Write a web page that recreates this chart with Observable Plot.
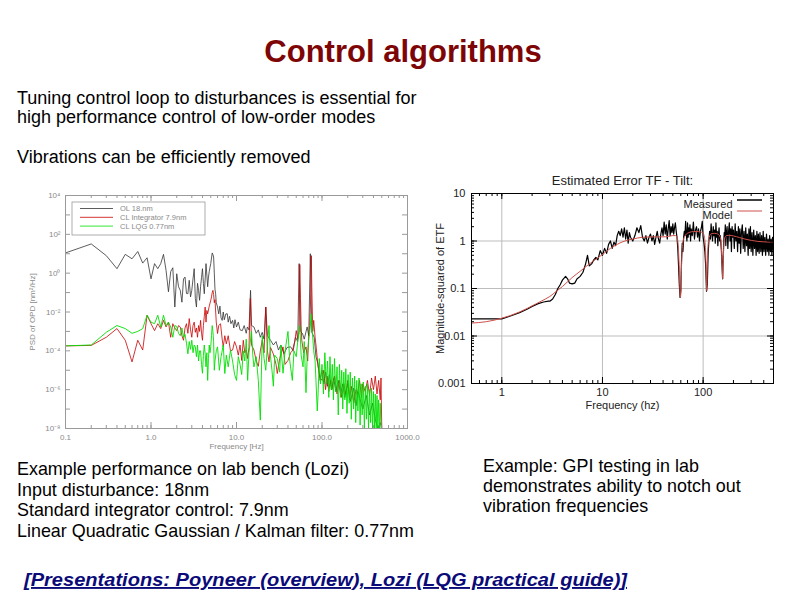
<!DOCTYPE html>
<html><head><meta charset="utf-8">
<script src="https://cdn.jsdelivr.net/npm/d3@7"></script>
<script src="https://cdn.jsdelivr.net/npm/@observablehq/plot@0.6"></script>
<style>
body{margin:0;background:#fff;}
#slide{position:relative;width:794px;height:595px;overflow:hidden;background:#fff;font-family:"Liberation Sans",Arial,sans-serif;}
</style></head><body><div id="slide"></div>
<script>
// ---------- slide text ----------
const titleText = "Control algorithms";
const topLines = ["Tuning control loop to disturbances is essential for", "high performance control of low-order modes", "Vibrations can be efficiently removed"];
const bottomLeftLines = ["Example performance on lab bench (Lozi)", "Input disturbance: 18nm", "Standard integrator control: 7.9nm", "Linear Quadratic Gaussian / Kalman filter: 0.77nm"];
const bottomRightLines = ["Example: GPI testing in lab", "demonstrates ability to notch out", "vibration frequencies"];
const linkText = "[Presentations: Poyneer (overview), Lozi (LQG practical guide)]";

// ---------- left chart: PSD of OPD ----------
const leftLegend = ["OL 18.nm", "CL Integrator 7.9nm", "CL LQG 0.77nm"];
const leftXTicks = [0.1, 1, 10, 100, 1000];
const leftYLabelTicks = [1e-8, 1e-6, 1e-4, 1e-2, 1, 1e2, 1e4];

const olFreq = [0.1,0.2,0.3,0.4,0.5,0.6,0.7,0.8,0.9,1.0,1.1,1.2,1.3,1.4,1.5,1.6,1.7,1.8,1.9,2.0,2.1,2.2,2.3,2.4,2.5,2.6,2.7,2.8,2.9,3.0,3.1,3.2,3.3,3.4,3.5,3.6,3.7,3.8,3.9,4.0,4.1,4.2,4.3,4.4,4.5,4.6,4.7,4.8,4.9,5.0,5.1,5.2,5.3,5.4,5.5,5.6,5.7,5.8,6.0,6.2,6.4,6.6,6.8,7.0,7.2,7.5,7.8,8.0,8.3,8.6,9.0,9.3,9.6,10,10.5,11,11.7,12.3,13,13.4,14,14.6,15,16,17,18,19,20,21,22,23,25,27,29,31,33,36,39,43,46,49,52,54,56,59,62,67,70,73,76,81,85,90,95,100,105,110,116,122,130,137,145,155,165,175,185,200,215,235,250,265,280,300,330,360,390,420,450,480,500];
const olPsd = [11,32,8,1.7,9.3,5.5,13,3.3,6.2,0.51,3.1,1.7,3.1,9.3,1.4,0.11,1.2,1.9,0.018,0.93,0.2,0.13,0.032,0.5,0.63,0.09,0.087,0.43,0.06,0.13,0.5,1.7,0.05,0.018,0.3,0.13,0.04,0.2,0.6,1.7,0.3,0.087,0.5,3.1,0.8,0.2,0.63,1.2,2.0,3.1,6,11,9,6.8,1.0,0.15,0.087,0.03,0.018,0.008,0.02,0.005,0.0037,0.01,0.004,0.008,0.0081,0.003,0.006,0.0025,0.0037,0.0015,0.004,0.0017,0.003,0.0012,0.0011,0.002,0.0008,0.0017,0.0012,0.13,0.002,0.0017,0.0008,0.0012,0.0005,0.0009,0.0004,0.018,0.0006,0.00035,0.0002,0.0003,0.00011,0.0002,0.00007,0.00015,0.00016,0.0001,0.0005,0.0003,3.1,0.001,0.0008,0.0004,0.0017,0.0006,10,0.0009,0.0005,0.00005,0.00002,3e-6,1e-5,2e-6,8e-6,1.5e-6,6e-6,1e-6,4e-6,8e-7,3e-6,6e-7,2e-6,4e-7,2e-6,2.5e-7,1.2e-6,1.5e-7,8e-7,3e-7,1e-7,5e-7,5e-8,2e-7,3e-8,1e-8,2e-8,1e-8];

const intFreq = [0.1,0.2,0.3,0.4,0.5,0.6,0.7,0.8,0.9,1.0,1.1,1.2,1.3,1.4,1.5,1.6,1.7,1.8,1.9,2.0,2.1,2.2,2.3,2.4,2.5,2.6,2.7,2.8,2.9,3.0,3.1,3.2,3.3,3.4,3.5,3.6,3.7,3.8,3.9,4.0,4.1,4.2,4.3,4.4,4.5,4.6,4.8,5.0,5.1,5.2,5.3,5.4,5.5,5.6,5.8,6.0,6.2,6.5,6.8,7.0,7.3,7.6,8.0,8.5,9.0,9.5,10,10.5,11,11.5,12,12.5,13,13.5,14,14.5,15,16,17,18,19,20,21,22,23,24,25,27,29,30,32,35,37,40,43,45,48,50,52,54,55,56,57,58,61,65,68,70,72,74,75,76,78,80,83,85,90,95,100,105,110,115,120,125,130,140,150,160,170,180,190,200,210,220,235,250,260,275,290,300,320,340,360,380,400,420,440,460,480,490,500];
const intPsd = [1.8e-4,1.9e-4,5e-4,1.4e-3,3.5e-4,2.7e-5,3.5e-4,1.1e-4,6.8e-3,2.5e-3,1.1e-3,2.5e-3,1.4e-3,3.7e-3,1.7e-3,3e-3,5e-4,2.5e-3,1.5e-3,1.1e-3,2e-3,1.7e-3,6e-4,3.5e-4,1.5e-3,2.5e-3,8e-4,4.6e-3,1.2e-3,5e-4,2e-3,3e-3,9e-4,1.5e-3,5e-4,2e-3,1e-3,3.7e-3,8e-4,3.5e-4,2e-3,6e-3,0.018,3e-3,0.012,8e-3,0.02,0.04,0.06,0.1,0.13,0.08,0.03,0.043,3e-3,7.8e-4,2e-3,2.5e-3,4e-4,1.6e-4,6e-4,2.3e-4,6e-4,1e-4,1.1e-4,3e-4,1.6e-4,6e-5,2e-4,3.2e-5,3.5e-4,8e-5,1.1e-4,4e-5,1.5e-4,0.05,2e-4,1.1e-4,3e-5,1.6e-5,1e-4,3.5e-4,8e-5,0.018,1e-4,2.7e-5,1.5e-4,6.8e-5,2e-5,6.8e-6,4e-5,1.6e-4,2e-5,3.2e-5,8e-5,1e-4,3e-4,1.1e-3,4e-4,1e-3,2.8,0.05,2e-3,3.5e-4,8e-5,1.6e-4,3e-5,6.8e-4,2e-3,0.1,8,0.2,1e-3,3.7e-3,5e-4,2e-4,1.5e-5,4e-6,3e-6,1e-5,1e-6,5e-6,8e-7,3e-6,1e-6,5e-6,6e-7,3e-6,4e-7,2e-6,6e-7,3e-6,3e-7,1.5e-6,2e-7,1e-6,6e-7,3e-6,4e-7,2e-6,8e-7,3e-6,5e-7,4e-6,1e-6,5e-6,6e-7,3e-6,3e-7,4e-6,1e-8];

const lqgFreq = [0.1,0.2,0.3,0.4,0.5,0.6,0.7,0.8,0.9,1.0,1.1,1.2,1.3,1.4,1.5,1.6,1.7,1.8,1.9,2.0,2.1,2.2,2.3,2.4,2.5,2.6,2.7,2.8,2.9,3.0,3.1,3.2,3.3,3.4,3.5,3.6,3.7,3.8,3.9,4.0,4.1,4.2,4.3,4.4,4.5,4.6,4.7,4.8,4.9,5.0,5.1,5.2,5.3,5.4,5.5,5.6,5.8,6.0,6.3,6.6,7.0,7.3,7.6,8.0,8.5,9.0,9.5,10,10.5,11,11.5,12,12.5,13,13.5,14,15,15.5,16,17,18,19,20,21,22,23,24,25,26,27,28,30,32,33,35,37,40,42,45,47,50,52,55,57,60,62,65,67,70,72,75,77,80,83,85,88,90,93,96,100,104,108,112,116,120,124,128,132,136,140,145,150,155,160,165,170,175,180,185,190,196,202,208,214,220,227,234,241,248,255,263,271,279,287,295,304,313,322,331,340,350,360,370,380,390,400,410,420,430,440,450,460,470,480,490];
const lqgPsd = [1.8e-4,2e-4,9e-4,2e-3,1.4e-3,8e-4,1e-3,1.4e-3,6.8e-3,3e-3,2.5e-3,6.8e-3,1.7e-3,6.8e-3,2e-3,3e-3,1.7e-3,5e-4,2e-3,1.8e-3,8e-4,6e-4,1.5e-3,5e-4,7e-4,2.5e-4,7e-5,3e-4,1.2e-4,3.5e-4,8e-5,2e-4,1.6e-4,5e-5,2e-4,3e-5,1e-4,1e-4,2e-5,7e-6,6e-5,2e-4,7e-5,1.5e-5,8e-5,3e-6,4e-5,2e-4,8e-5,1.6e-4,6e-4,2e-3,1e-3,3e-4,1e-5,3e-5,1e-4,1.6e-4,1e-5,5e-5,2e-4,6.8e-6,6e-5,1.5e-5,1.1e-4,3e-5,6e-6,3e-6,5e-5,2e-5,6e-6,1e-4,3e-5,4e-4,3e-6,8e-5,1e-3,6e-5,1.5e-5,5e-5,3e-6,2.7e-8,6e-4,4e-5,1e-5,2e-4,2e-3,5e-5,1e-5,1.5e-6,6e-5,4e-5,8e-6,2e-4,7e-6,1e-4,1e-3,3e-5,3e-6,1e-4,5e-5,3e-4,2e-3,6e-5,1.5e-5,3e-4,7e-7,4e-5,4e-4,1e-3,8e-3,1e-3,1e-4,3e-5,3e-6,8e-8,6e-7,4e-5,2e-6,2e-5,6e-7,8e-5,2e-6,3e-5,4e-7,5e-5,1e-6,2e-5,3e-7,4e-5,8e-7,1.5e-5,5e-8,2e-5,4e-7,1e-5,1e-7,8e-6,3e-7,1.2e-5,6e-8,6e-6,2e-7,8e-6,3e-8,4e-6,1e-7,5e-6,2e-8,3e-6,8e-8,4e-6,1.5e-8,2e-6,5e-8,2.5e-6,1e-8,1.5e-6,3e-8,2e-6,1e-8,1e-6,2e-8,1.2e-6,1e-8,8e-7,1e-8,6e-7,1e-8,5e-7,1e-8,3e-7,1e-8,2e-7,1e-8];

// ---------- right chart: Estimated Error TF - Tilt ----------
const rightTitle = "Estimated Error TF - Tilt:";
const rightLegend = ["Measured", "Model"];
const rightXTicks = [1, 10, 100];
const rightYTicks = [0.001, 0.01, 0.1, 1, 10];

const measFreq = [0.5,1.0,1.2,1.5,1.8,2.0,2.3,2.6,2.9,3.0,3.2,3.4,3.6,3.8,4.0,4.3,4.5,4.7,5.0,5.3,5.6,6.0,6.4,6.8,7.1,7.4,7.8,8.2,8.6,9.0,9.5,10,10.5,11,11.5,12,12.5,13,13.5,14,14.5,15,15.5,16,16.5,17,17.5,18,18.5,19,20,21,22,23,24,25,26,27,28,29,30,31,32,33,34,35,36,37,38,39,40,41,42,43,44,45,46,47,48,49,50,51,52,53,54,55,56,57,58,59,60,61,62,63,64,65,66,67,68,69,70,71,72,73,74,75,76,78,80,82,84,86,88,90,92,94,96,98,100,102,104,106,108,110,112,114,116,118,120,122,124,126,128,130,132,134,136,138,140,142,144,146,148,150,152,154,156,158,160,162,164,166,168,170,173,176,179,182,185,188,191,194,197,200,204,208,212,216,220,224,228,232,236,240,245,250,255,260,265,270,275,280,285,290,295,300,306,312,318,324,330,336,342,348,354,360,367,374,381,388,395,402,410,418,426,434,442,450,458,466,474,482,490,500];
const measVal = [0.023,0.023,0.026,0.031,0.037,0.042,0.048,0.052,0.054,0.054,0.06,0.075,0.1,0.12,0.15,0.18,0.16,0.13,0.125,0.13,0.16,0.18,0.22,0.33,0.5,0.3,0.33,0.4,0.45,0.4,0.63,0.5,0.7,0.55,0.85,1.0,0.7,0.95,0.8,1.3,1.6,1.3,1.8,1.2,1.9,1.1,1.7,0.9,1.5,1.2,1.0,1.3,1.9,1.5,2.1,1.2,1.0,1.3,0.9,1.2,1.4,1.0,1.3,0.85,1.2,1.6,1.1,0.9,1.4,1.9,1.3,2.5,1.4,2.2,1.1,1.8,2.7,1.3,2.0,1.5,2.3,1.4,1.9,2.4,1.6,1.2,0.7,0.3,0.12,0.065,0.09,0.4,0.9,0.6,1.2,1.6,1.3,2.6,1.4,1.0,2.4,1.2,1.9,1.4,2.2,1.0,1.8,1.3,2.5,1.1,1.7,2.0,1.2,1.8,1.0,1.6,1.9,2.6,1.2,0.9,0.6,0.3,0.088,0.12,0.5,1.0,1.6,1.1,2.3,1.4,1.0,2.0,1.3,1.7,0.9,2.4,1.2,1.6,0.8,1.4,1.9,1.0,1.3,0.9,0.6,0.3,0.16,0.4,0.9,1.5,1.2,2.2,0.8,1.5,2.0,0.7,1.6,2.4,1.0,1.8,0.6,2.0,1.2,1.7,0.7,2.3,1.0,1.6,0.6,2.0,0.9,1.8,0.55,1.5,2.2,0.7,1.6,0.6,1.9,0.8,1.4,0.5,1.8,0.7,2.0,0.6,1.5,0.5,1.7,0.7,1.3,0.5,1.6,0.6,1.4,0.55,1.5,0.6,1.3,0.5,1.6,0.6,1.2,0.5,1.4,0.6,1.1,0.5,1.3,0.6,1.1,0.5,1.2,0.6];

const modelFreq = [0.5,0.7,1.0,1.5,2.0,2.5,3.0,3.5,4.0,5.0,6.0,7.0,8.0,10,12,14,16,18,20,25,30,35,40,45,50,53,55,56,57,58,59,59.5,60,61,62,64,67,72,80,90,95,100,103,105,107,108.5,110,112,115,120,130,140,148,151,153,155,156.5,158,160,163,170,180,200,230,260,300,350,400,450,500];
const modelVal = [0.0187,0.02,0.0237,0.032,0.043,0.055,0.068,0.088,0.11,0.17,0.23,0.3,0.37,0.52,0.7,0.85,0.97,1.05,1.1,1.2,1.22,1.22,1.22,1.25,1.3,1.3,1.2,1.0,0.6,0.25,0.08,0.065,0.08,0.3,0.7,1.1,1.35,1.5,1.58,1.58,1.55,1.45,1.2,0.8,0.3,0.09,0.3,0.8,1.2,1.42,1.45,1.4,1.2,0.9,0.5,0.25,0.16,0.3,0.7,1.1,1.3,1.32,1.28,1.18,1.1,1.03,0.98,0.96,0.95,0.95];

// ---------- build ----------
const slideEl = document.getElementById("slide");
const FONT = "Liberation Sans, Arial, sans-serif";

// slide text layer
const tsvg = d3.select(slideEl).append("svg")
  .attr("width", 794).attr("height", 595)
  .style("position", "absolute").style("left", "0px").style("top", "0px")
  .style("font-family", FONT);

tsvg.append("text").attr("x", 403).attr("y", 62).attr("text-anchor", "middle")
  .attr("font-size", 31).attr("font-weight", "bold").attr("fill", "#7d0505").text(titleText);

const topY = [104, 122.5, 162.5];
topLines.forEach((t, i) => tsvg.append("text").attr("x", 17).attr("y", topY[i])
  .attr("font-size", 18).attr("fill", "#000").text(t));

// condensed text blocks
const bl = bottomLeftLines.map((t, i) => tsvg.append("text").attr("x", 17).attr("y", 475 + i * 20.5)
  .attr("font-size", 19).attr("fill", "#000").text(t));
const br = bottomRightLines.map((t, i) => tsvg.append("text").attr("x", 483).attr("y", 472 + i * 20)
  .attr("font-size", 19).attr("fill", "#000").text(t));
const k = 397 / bl[3].node().getComputedTextLength();
[...bl, ...br].forEach(s => {
  const w = s.node().getComputedTextLength();
  s.attr("textLength", w * k).attr("lengthAdjust", "spacingAndGlyphs");
});
const link = tsvg.append("text").attr("x", 24).attr("y", 586)
  .attr("font-size", 19).attr("font-weight", "bold").attr("font-style", "italic")
  .attr("fill", "#0a0a78").attr("text-decoration", "underline").text(linkText);
link.attr("textLength", 603).attr("lengthAdjust", "spacingAndGlyphs");

// ---- left chart ----
const LW = 400, LH = 270, LML = 45, LMR = 13, LMT = 10, LMB = 27;
const lIn = LH - LMT - LMB, lInW = LW - LML - LMR;
const supMap = {"-": "⁻", "0": "⁰", "1": "¹", "2": "²", "3": "³", "4": "⁴", "5": "⁵", "6": "⁶", "7": "⁷", "8": "⁸", "9": "⁹"};
const sup = n => String(n).split("").map(c => supMap[c]).join("");
const lxMinor = d3.scaleLog().domain([0.1, 1000]).ticks();
const lyMajor = d3.range(-8, 5).map(e => Math.pow(10, e));
const toRows = (xs, ys) => xs.map((f, i) => ({f, v: ys[i]}));
const gray = "#9a9a9a";

const leftChart = Plot.plot({
  width: LW, height: LH, marginLeft: LML, marginRight: LMR, marginTop: LMT, marginBottom: LMB,
  style: {fontFamily: FONT, fontSize: "8px", color: "#8a8a8a", background: "transparent", overflow: "visible"},
  x: {type: "log", domain: [0.1, 1000]},
  y: {type: "log", domain: [1e-8, 1e4]},
  marks: [
    Plot.line(toRows(olFreq, olPsd), {x: "f", y: "v", stroke: "#333", strokeWidth: 0.8, clip: true}),
    Plot.line(toRows(intFreq, intPsd), {x: "f", y: "v", stroke: "#c80000", strokeWidth: 0.8, clip: true}),
    Plot.line(toRows(lqgFreq, lqgPsd), {x: "f", y: "v", stroke: "#00e000", strokeWidth: 0.9, clip: true}),
    Plot.frame({stroke: gray}),
    Plot.ruleX(lxMinor, {x: d => d, insetTop: lIn - 3, stroke: gray}),
    Plot.ruleX(lxMinor, {x: d => d, insetBottom: lIn - 3, stroke: gray}),
    Plot.ruleX(leftXTicks, {x: d => d, insetTop: lIn - 6, stroke: gray}),
    Plot.ruleX(leftXTicks, {x: d => d, insetBottom: lIn - 6, stroke: gray}),
    Plot.ruleY(lyMajor, {y: d => d, insetRight: lInW - 5, stroke: gray}),
    Plot.ruleY(lyMajor, {y: d => d, insetLeft: lInW - 5, stroke: gray}),
    Plot.axisX({ticks: leftXTicks, tickSize: 0, tickPadding: 6, label: null, tickFormat: d => d.toFixed(1), fill: "#8a8a8a"}),
    Plot.axisY({ticks: leftYLabelTicks, tickSize: 0, tickPadding: 5, label: null, tickFormat: d => "10" + sup(Math.round(Math.log10(d))), fill: "#8a8a8a"}),
    Plot.text(["Frequency [Hz]"], {frameAnchor: "bottom", dy: 20, fill: "#8a8a8a"}),
    Plot.text(["PSD of OPD [nm²/Hz]"], {frameAnchor: "left", dx: -33, rotate: -90, textAnchor: "middle", fill: "#8a8a8a"})
  ]
});
leftChart.style.position = "absolute";
leftChart.style.left = "20px";
leftChart.style.top = "185px";
slideEl.appendChild(leftChart);
{
  const g = d3.select(leftChart).append("g").attr("text-anchor", "start");
  g.append("rect").attr("x", 52).attr("y", 17).attr("width", 133).attr("height", 33)
    .attr("fill", "none").attr("stroke", gray).attr("stroke-width", 0.8);
  const cols = ["#333", "#c80000", "#00e000"];
  leftLegend.forEach((t, i) => {
    const y = 23.5 + i * 8.8;
    g.append("line").attr("x1", 60).attr("x2", 93).attr("y1", y).attr("y2", y).attr("stroke", cols[i]).attr("stroke-width", 0.8);
    g.append("text").attr("x", 100).attr("y", y + 2.8).attr("text-anchor", "start").attr("font-size", 7.5).attr("fill", "#8a8a8a").attr("font-family", FONT).text(t);
  });
}

// ---- right chart ----
const RW = 350, RH = 260, RML = 41, RMR = 7, RMT = 33, RMB = 37;
const rIn = RH - RMT - RMB, rInW = RW - RML - RMR;
const rxMinor = d3.scaleLog().domain([0.5, 500]).ticks();
const ryMinor = d3.scaleLog().domain([0.001, 10]).ticks();

const rightChart = Plot.plot({
  width: RW, height: RH, marginLeft: RML, marginRight: RMR, marginTop: RMT, marginBottom: RMB,
  style: {fontFamily: FONT, fontSize: "11px", color: "#222", background: "transparent", overflow: "visible"},
  x: {type: "log", domain: [0.5, 500]},
  y: {type: "log", domain: [0.001, 10]},
  marks: [
    Plot.ruleX(rightXTicks, {x: d => d, stroke: "#bdbdbd"}),
    Plot.ruleY([0.01, 0.1, 1], {y: d => d, stroke: "#bdbdbd"}),
    Plot.line(toRows(measFreq, measVal), {x: "f", y: "v", stroke: "#000", strokeWidth: 1.2, clip: true}),
    Plot.line(toRows(modelFreq, modelVal), {x: "f", y: "v", stroke: "#d0504a", strokeWidth: 1, curve: "monotone-x", clip: true}),
    Plot.frame({stroke: "#000"}),
    Plot.ruleX(rxMinor, {x: d => d, insetTop: rIn - 3, stroke: "#000"}),
    Plot.ruleX(rxMinor, {x: d => d, insetBottom: rIn - 3, stroke: "#000"}),
    Plot.ruleX(rightXTicks, {x: d => d, insetTop: rIn - 6, stroke: "#000"}),
    Plot.ruleX(rightXTicks, {x: d => d, insetBottom: rIn - 6, stroke: "#000"}),
    Plot.ruleY(ryMinor, {y: d => d, insetRight: rInW - 3, stroke: "#000"}),
    Plot.ruleY(ryMinor, {y: d => d, insetLeft: rInW - 3, stroke: "#000"}),
    Plot.ruleY(rightYTicks, {y: d => d, insetRight: rInW - 6, stroke: "#000"}),
    Plot.ruleY(rightYTicks, {y: d => d, insetLeft: rInW - 6, stroke: "#000"}),
    Plot.axisX({ticks: rightXTicks, tickSize: 0, tickPadding: 5, label: null, tickFormat: d => String(d)}),
    Plot.axisY({ticks: rightYTicks, tickSize: 0, tickPadding: 6, label: null, tickFormat: d => String(d)}),
    Plot.text([rightTitle], {frameAnchor: "top", dy: -18, fontSize: 13}),
    Plot.text(["Frequency (hz)"], {frameAnchor: "bottom", dy: 25}),
    Plot.text(["Magnitude-squared of ETF"], {frameAnchor: "left", dx: -31, rotate: -90, textAnchor: "middle"}),
    Plot.text([rightLegend[0]], {frameAnchor: "top-right", dx: -41, dy: 7, textAnchor: "end"}),
    Plot.text([rightLegend[1]], {frameAnchor: "top-right", dx: -41, dy: 18, textAnchor: "end"})
  ]
});
rightChart.style.position = "absolute";
rightChart.style.left = "430px";
rightChart.style.top = "160px";
slideEl.appendChild(rightChart);
{
  const g = d3.select(rightChart).append("g");
  g.append("line").attr("x1", 307).attr("x2", 332).attr("y1", 40).attr("y2", 40).attr("stroke", "#000").attr("stroke-width", 1.5);
  g.append("line").attr("x1", 307).attr("x2", 332).attr("y1", 51).attr("y2", 51).attr("stroke", "#d0504a").attr("stroke-width", 1);
}
</script></body></html>
